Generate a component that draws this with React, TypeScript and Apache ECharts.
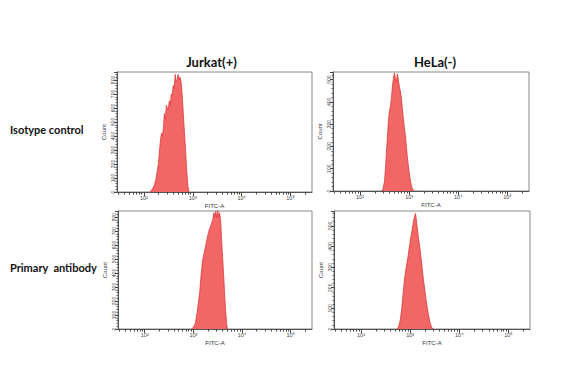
import React, { useEffect, useRef } from "react";
import * as echarts from "echarts";

// Column / row headers
const columnTitles = ["Jurkat(+)", "HeLa(-)"];
const rowTitles = ["Isotype control", "Primary  antibody"];

// x positions are log10(FITC-A) bin centres
const binsTL = [2.12, 2.15, 2.18, 2.21, 2.24, 2.27, 2.30, 2.32, 2.34, 2.36, 2.38, 2.40, 2.42, 2.44, 2.46, 2.48, 2.50, 2.52, 2.54, 2.56, 2.58, 2.60, 2.62, 2.64, 2.66, 2.68, 2.70, 2.72, 2.74, 2.76, 2.78, 2.80, 2.82, 2.84, 2.86, 2.88, 2.90, 2.92];
const countsTL = [0, 10, 25, 45, 80, 140, 210, 300, 370, 420, 400, 460, 560, 520, 620, 600, 590, 650, 620, 700, 690, 760, 740, 840, 790, 800, 840, 800, 820, 790, 710, 600, 480, 370, 250, 140, 45, 0];

const binsTR = [2.44, 2.47, 2.50, 2.52, 2.54, 2.56, 2.58, 2.60, 2.62, 2.64, 2.66, 2.68, 2.70, 2.72, 2.74, 2.76, 2.78, 2.80, 2.82, 2.84, 2.86, 2.88, 2.90, 2.92, 2.94, 2.96, 2.98, 3.00, 3.02, 3.04, 3.06, 3.08, 3.10];
const countsTR = [0, 10, 45, 110, 180, 250, 320, 360, 380, 420, 470, 505, 530, 505, 490, 525, 500, 470, 450, 420, 375, 330, 290, 255, 210, 160, 120, 85, 55, 30, 14, 5, 0];

const binsBL = [2.96, 3.00, 3.04, 3.07, 3.10, 3.13, 3.16, 3.19, 3.22, 3.25, 3.28, 3.31, 3.34, 3.37, 3.40, 3.42, 3.44, 3.46, 3.48, 3.50, 3.52, 3.54, 3.56, 3.58, 3.60, 3.62, 3.64, 3.66, 3.68, 3.70];
const countsBL = [0, 12, 40, 100, 180, 260, 390, 490, 540, 590, 640, 690, 720, 750, 780, 830, 800, 840, 795, 850, 800, 830, 780, 640, 520, 400, 270, 150, 50, 0];

const binsBR = [2.74, 2.77, 2.80, 2.83, 2.86, 2.89, 2.92, 2.95, 2.98, 3.01, 3.04, 3.07, 3.09, 3.11, 3.14, 3.17, 3.20, 3.23, 3.26, 3.29, 3.32, 3.35, 3.38, 3.41, 3.44, 3.46];
const countsBR = [0, 15, 45, 100, 180, 250, 300, 340, 390, 440, 480, 525, 545, 560, 500, 440, 390, 330, 260, 205, 150, 100, 60, 25, 8, 0];

const panelBins = [binsTL, binsTR, binsBL, binsBR];
const panelCounts = [countsTL, countsTR, countsBL, countsBR];
const yMax = [857, 534, 843, 572];

const xMajorTicks = [2, 3, 4, 5];
const xTickLabels = ["10²", "10³", "10⁴", "10⁵"];
const xAxisName = "FITC-A";
const yAxisName = "Count";

const X_MIN = 1.45;
const X_MAX = 5.44;

const grids = [
  { left: 117, top: 72, width: 195, height: 120 },
  { left: 333, top: 72, width: 196, height: 119 },
  { left: 118, top: 211, width: 194, height: 118 },
  { left: 334, top: 211, width: 196, height: 118 },
];

function minorTickValues(): number[] {
  const out: number[] = [];
  for (let n = 1; n <= 5; n++) {
    for (let k = 1; k <= 9; k++) {
      const v = Math.log10(k * Math.pow(10, n));
      if (v >= X_MIN && v <= X_MAX) out.push(v);
    }
  }
  return out;
}

export default function App() {
  const ref = useRef<HTMLDivElement>(null);
  useEffect(() => {
    if (!ref.current) return;
    const chart = echarts.init(ref.current, null, { renderer: "svg" });
    const minor = minorTickValues();
    const xAxis: any[] = [];
    const yAxis: any[] = [];
    const series: any[] = [];
    grids.forEach((g, i) => {
      xAxis.push({
        type: "value",
        gridIndex: i,
        min: X_MIN,
        max: X_MAX,
        splitLine: { show: false },
        axisLine: { show: true, lineStyle: { color: "#555", width: 1 } },
        axisTick: { show: true, length: 4, customValues: xMajorTicks, lineStyle: { color: "#444" } },
        axisLabel: {
          show: true,
          customValues: xMajorTicks,
          formatter: (v: number) => xTickLabels[xMajorTicks.indexOf(Math.round(v))] || "",
          fontSize: 5.5,
          color: "#444",
          margin: 3,
          fontFamily: "Liberation Sans",
        },
        name: xAxisName,
        nameLocation: "middle",
        nameGap: 11,
        nameTextStyle: { fontSize: 6, color: "#333", fontFamily: "Liberation Sans" },
      });
      xAxis.push({
        type: "value",
        gridIndex: i,
        min: X_MIN,
        max: X_MAX,
        position: "bottom",
        splitLine: { show: false },
        axisLine: { show: false },
        axisTick: { show: true, length: 2.5, customValues: minor, lineStyle: { color: "#444" } },
        axisLabel: { show: false },
      });
      yAxis.push({
        type: "value",
        gridIndex: i,
        min: 0,
        max: yMax[i],
        interval: 100,
        splitLine: { show: false },
        axisLine: { show: true, lineStyle: { color: "#555", width: 1 } },
        axisTick: { show: true, length: 3, lineStyle: { color: "#444" } },
        minorTick: { show: true, splitNumber: 5, length: 1.5, lineStyle: { color: "#666" } },
        axisLabel: {
          fontSize: 5,
          rotate: 90,
          margin: 2,
          color: "#444",
          showMaxLabel: false,
          fontFamily: "Liberation Sans",
        },
        name: yAxisName,
        nameLocation: "middle",
        nameGap: 10,
        nameTextStyle: { fontSize: 6, color: "#333", fontFamily: "Liberation Sans" },
      });
      series.push({
        type: "line",
        xAxisIndex: i * 2,
        yAxisIndex: i,
        data: panelBins[i].map((b, j) => [b, panelCounts[i][j]]),
        symbol: "none",
        smooth: false,
        lineStyle: { color: "#DC3B3B", width: 0.8 },
        areaStyle: { color: "#F26666", opacity: 1 },
      });
    });

    const graphic: any[] = [
      {
        type: "text",
        x: (grids[0].left + grids[0].left + grids[0].width) / 2 - 3,
        y: 62,
        style: { text: columnTitles[0], fontSize: 13, fontWeight: "bold", fontFamily: "Lato", fill: "#111", align: "center", verticalAlign: "middle" },
      },
      {
        type: "text",
        x: (grids[1].left + grids[1].left + grids[1].width) / 2 + 4,
        y: 62,
        style: { text: columnTitles[1], fontSize: 13, fontWeight: "bold", fontFamily: "Lato", fill: "#111", align: "center", verticalAlign: "middle" },
      },
      {
        type: "text",
        x: 10,
        y: 129,
        style: { text: rowTitles[0], fontSize: 11, fontWeight: "bold", fontFamily: "Lato", fill: "#111", align: "left", verticalAlign: "middle" },
      },
      {
        type: "text",
        x: 10,
        y: 267,
        style: { text: rowTitles[1], fontSize: 11, fontWeight: "bold", fontFamily: "Lato", fill: "#111", align: "left", verticalAlign: "middle" },
      },
    ];

    chart.setOption({
      animation: false,
      backgroundColor: "#fff",
      grid: grids.map((g) => ({ ...g, show: true, borderColor: "#888", borderWidth: 1, backgroundColor: "#fff" })),
      xAxis,
      yAxis,
      series,
      graphic,
    });
    return () => chart.dispose();
  }, []);
  return <div ref={ref} style={{ position: "fixed", left: 0, top: 0, width: 582, height: 378 }} />;
}
